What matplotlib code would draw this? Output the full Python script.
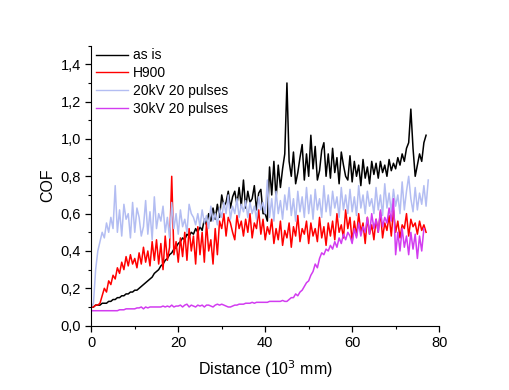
import numpy as np
import matplotlib.pyplot as plt
from matplotlib.ticker import MultipleLocator, FuncFormatter

plt.rcParams['font.family'] = ['Liberation Sans', 'DejaVu Sans']

# COF traces, one value every 0.5 (10^3 mm)
step = 0.5

as_is = [0.10,0.10,0.11,0.11,0.11,0.12,0.12,0.12,0.13,0.13,
         0.14,0.14,0.15,0.15,0.16,0.16,0.17,0.17,0.18,0.18,
         0.19,0.19,0.20,0.21,0.22,0.23,0.24,0.25,0.26,0.28,
         0.29,0.30,0.32,0.33,0.35,0.36,0.38,0.39,0.41,0.42,
         0.44,0.45,0.47,0.46,0.49,0.48,0.50,0.49,0.52,0.50,
         0.53,0.51,0.57,0.54,0.60,0.56,0.63,0.57,0.65,0.58,
         0.70,0.64,0.66,0.72,0.63,0.69,0.72,0.65,0.74,0.64,
         0.78,0.63,0.72,0.66,0.68,0.75,0.62,0.71,0.73,0.60,
         0.60,0.56,0.85,0.70,0.88,0.68,0.86,0.74,0.84,0.92,
         1.30,0.88,0.80,0.93,0.76,0.82,0.90,0.97,0.78,0.92,
         0.80,1.02,0.84,0.96,0.78,0.83,0.94,0.98,0.80,0.92,
         0.79,0.95,0.82,0.90,0.76,0.93,0.86,0.80,0.78,0.91,
         0.77,0.88,0.80,0.86,0.75,0.89,0.79,0.85,0.76,0.88,
         0.81,0.87,0.79,0.88,0.82,0.86,0.80,0.89,0.83,0.87,
         0.84,0.90,0.86,0.92,0.88,0.95,0.98,1.16,0.95,0.80,
         0.86,0.92,0.88,0.98,1.02]

h900 = [0.10,0.10,0.11,0.11,0.12,0.16,0.20,0.18,0.24,0.22,
        0.27,0.25,0.31,0.28,0.34,0.30,0.37,0.32,0.38,0.33,
        0.36,0.31,0.39,0.33,0.42,0.34,0.40,0.32,0.45,0.35,
        0.46,0.33,0.44,0.30,0.48,0.35,0.42,0.80,0.38,0.45,
        0.34,0.47,0.37,0.50,0.35,0.52,0.40,0.48,0.33,0.53,
        0.38,0.50,0.34,0.55,0.40,0.46,0.33,0.52,0.38,0.56,
        0.52,0.60,0.48,0.58,0.55,0.50,0.46,0.59,0.52,0.56,
        0.48,0.57,0.50,0.60,0.47,0.55,0.52,0.62,0.49,0.57,
        0.46,0.53,0.49,0.57,0.44,0.52,0.46,0.56,0.43,0.51,
        0.47,0.55,0.42,0.53,0.48,0.59,0.45,0.52,0.49,0.56,
        0.44,0.55,0.48,0.52,0.45,0.58,0.47,0.53,0.43,0.55,
        0.48,0.56,0.46,0.60,0.50,0.54,0.47,0.62,0.52,0.58,
        0.45,0.56,0.48,0.60,0.50,0.55,0.44,0.58,0.49,0.54,
        0.46,0.57,0.50,0.61,0.47,0.55,0.51,0.59,0.48,0.62,
        0.50,0.56,0.47,0.54,0.52,0.60,0.48,0.57,0.53,0.55,
        0.49,0.56,0.51,0.54,0.50]

kv20 = [0.10,0.12,0.30,0.40,0.45,0.50,0.47,0.55,0.50,0.58,
        0.52,0.75,0.50,0.62,0.48,0.65,0.57,0.60,0.47,0.66,
        0.50,0.63,0.58,0.48,0.53,0.67,0.49,0.61,0.46,0.69,
        0.52,0.60,0.56,0.64,0.50,0.58,0.47,0.66,0.52,0.60,
        0.49,0.62,0.53,0.57,0.50,0.65,0.60,0.58,0.54,0.60,
        0.53,0.62,0.55,0.59,0.52,0.64,0.56,0.60,0.54,0.63,
        0.58,0.66,0.60,0.70,0.57,0.64,0.60,0.68,0.58,0.65,
        0.61,0.67,0.58,0.66,0.60,0.64,0.57,0.69,0.62,0.66,
        0.60,0.78,0.58,0.68,0.56,0.72,0.60,0.67,0.57,0.70,
        0.62,0.74,0.59,0.68,0.56,0.72,0.61,0.69,0.58,0.74,
        0.60,0.70,0.57,0.73,0.62,0.68,0.58,0.75,0.61,0.70,
        0.59,0.72,0.63,0.69,0.58,0.74,0.62,0.70,0.60,0.73,
        0.61,0.69,0.59,0.75,0.63,0.70,0.60,0.72,0.64,0.68,
        0.60,0.74,0.62,0.70,0.59,0.76,0.63,0.71,0.61,0.73,
        0.64,0.70,0.60,0.77,0.62,0.72,0.80,0.68,0.61,0.74,
        0.62,0.71,0.65,0.75,0.64,0.78]

kv30 = [0.08,0.08,0.08,0.08,0.08,0.08,0.08,0.08,0.08,0.08,
        0.08,0.08,0.08,0.085,0.085,0.085,0.09,0.09,0.09,0.09,
        0.09,0.095,0.095,0.10,0.09,0.10,0.095,0.10,0.10,0.10,
        0.10,0.10,0.10,0.105,0.10,0.105,0.10,0.11,0.10,0.105,
        0.105,0.11,0.10,0.11,0.115,0.10,0.11,0.105,0.10,0.11,
        0.105,0.11,0.10,0.11,0.11,0.105,0.10,0.11,0.115,0.11,
        0.115,0.11,0.105,0.10,0.10,0.105,0.11,0.11,0.115,0.115,
        0.115,0.12,0.12,0.12,0.125,0.12,0.125,0.125,0.125,0.125,
        0.125,0.125,0.13,0.13,0.13,0.13,0.13,0.13,0.135,0.13,
        0.13,0.14,0.15,0.15,0.17,0.16,0.18,0.19,0.21,0.23,
        0.24,0.27,0.29,0.33,0.31,0.36,0.39,0.38,0.41,0.40,
        0.43,0.41,0.45,0.42,0.47,0.44,0.49,0.46,0.50,0.48,
        0.44,0.52,0.47,0.55,0.48,0.53,0.50,0.58,0.49,0.60,
        0.52,0.57,0.50,0.62,0.53,0.58,0.55,0.63,0.56,0.68,
        0.38,0.50,0.40,0.52,0.42,0.48,0.38,0.50,0.41,0.49,
        0.36,0.48,0.40,0.52]

series = [(as_is, 'as is', '#000000'),
          (h900, 'H900', '#ff0000'),
          (kv20, '20kV 20 pulses', '#b3bdf2'),
          (kv30, '30kV 20 pulses', '#d23cf0')]

fig = plt.figure(figsize=(5.1, 3.9), dpi=100)
ax = fig.add_axes([0.179, 0.165, 0.682, 0.718])

for y, name, c in series:
    x = np.arange(len(y)) * step
    ax.plot(x, y, color=c, lw=1.1, label=name)

ax.set_xlim(0, 80)
ax.set_ylim(0, 1.5)
ax.xaxis.set_major_locator(MultipleLocator(20))
ax.xaxis.set_minor_locator(MultipleLocator(10))
ax.yaxis.set_major_locator(MultipleLocator(0.2))
ax.yaxis.set_minor_locator(MultipleLocator(0.1))
ax.yaxis.set_major_formatter(FuncFormatter(lambda v, p: ('%.1f' % v).replace('.', ',')))
ax.tick_params(which='major', direction='out', length=4, width=0.9, labelsize=10.5)
ax.tick_params(which='minor', direction='out', length=2.5, width=0.8)
for s in ['top', 'right']:
    ax.spines[s].set_visible(False)

ax.set_xlabel('Distance (10$^3$ mm)', fontsize=11.5, labelpad=6)
ax.set_ylabel('COF', fontsize=11.5, labelpad=4)

leg = ax.legend(loc='upper left', bbox_to_anchor=(-0.005, 1.015), frameon=False,
                fontsize=10, handlelength=2.3, handletextpad=0.3,
                labelspacing=0.28, borderaxespad=0.1)
for h in leg.get_lines():
    h.set_linewidth(1.0)

fig.savefig('out.png', dpi=100)
